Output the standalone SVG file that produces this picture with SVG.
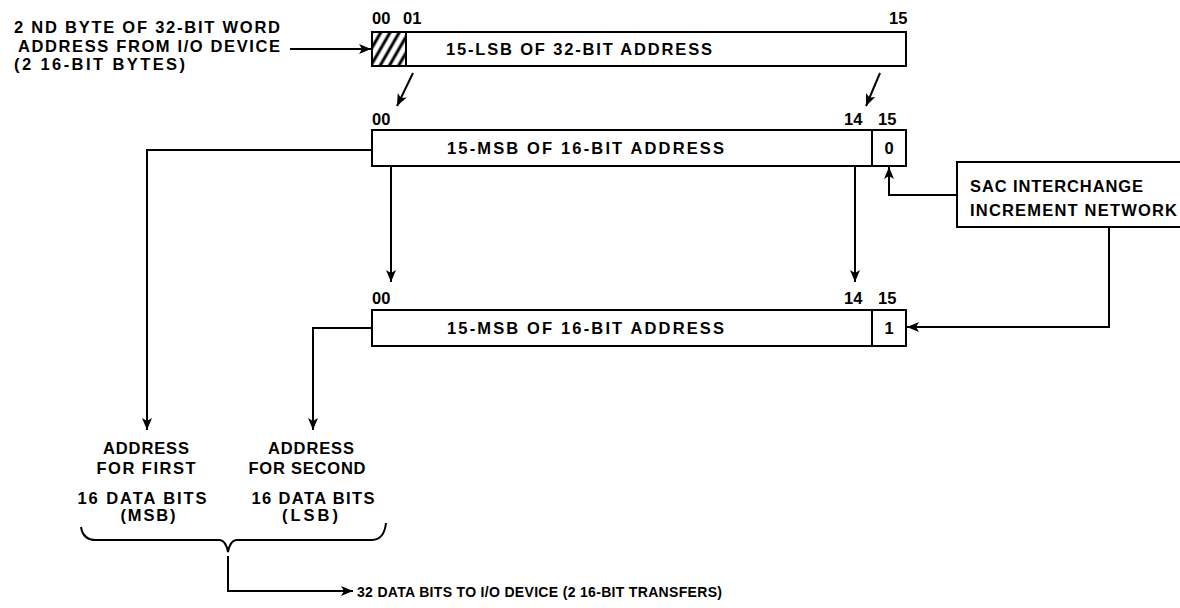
<svg xmlns="http://www.w3.org/2000/svg" width="1180" height="608" viewBox="0 0 1180 608">
<style>
text{font-family:"Liberation Sans",Arial,sans-serif;font-weight:bold;font-size:16.5px;fill:#000}
.bx{fill:#fff;stroke:#000;stroke-width:2}
.ln{fill:none;stroke:#000;stroke-width:2}
.mid{text-anchor:middle}
</style>
<defs>
<marker id="ah" viewBox="0 0 12 10" refX="12" refY="5" markerWidth="12" markerHeight="10" markerUnits="userSpaceOnUse" orient="auto">
<path d="M0,0 L12,5 L0,10 L3,5 z" fill="#000"/>
</marker>
<pattern id="hatch" patternUnits="userSpaceOnUse" width="8" height="8" patternTransform="rotate(30)">
<rect width="8" height="8" fill="#fff"/>
<line x1="2" y1="0" x2="2" y2="8" stroke="#000" stroke-width="3"/>
</pattern>
</defs>

<g id="source-label">
<text x="14" y="33" textLength="266" lengthAdjust="spacing">2 ND BYTE OF 32-BIT WORD</text>
<text x="18" y="52" textLength="262" lengthAdjust="spacing">ADDRESS FROM I/O DEVICE</text>
<text x="14" y="70" textLength="171" lengthAdjust="spacing">(2 16-BIT BYTES)</text>
</g>

<g id="reg-top">
<rect class="bx" x="372" y="32" width="534" height="34"/>
<rect x="373" y="33" width="33" height="32" fill="url(#hatch)"/>
<line class="ln" x1="406" y1="32" x2="406" y2="66"/>
<rect x="372" y="32" width="534" height="34" fill="none" stroke="#000" stroke-width="2"/>
<text x="372" y="24">00</text>
<text x="403" y="24">01</text>
<text x="889" y="24">15</text>
<text x="446" y="55" textLength="266" lengthAdjust="spacing">15-LSB OF 32-BIT ADDRESS</text>
</g>

<g id="reg-mid">
<rect class="bx" x="372" y="130" width="534" height="36"/>
<line class="ln" x1="872" y1="130" x2="872" y2="166"/>
<text x="372" y="125">00</text>
<text x="844" y="125">14</text>
<text x="878" y="125">15</text>
<text x="447" y="154" textLength="277" lengthAdjust="spacing">15-MSB OF 16-BIT ADDRESS</text>
<text x="889" y="154" class="mid">0</text>
</g>

<g id="reg-bot">
<rect class="bx" x="372" y="310" width="534" height="36"/>
<line class="ln" x1="872" y1="310" x2="872" y2="346"/>
<text x="372" y="304">00</text>
<text x="844" y="304">14</text>
<text x="878" y="304">15</text>
<text x="447" y="334" textLength="277" lengthAdjust="spacing">15-MSB OF 16-BIT ADDRESS</text>
<text x="889" y="334" class="mid">1</text>
</g>

<g id="sac">
<rect class="bx" x="957" y="162" width="240" height="65"/>
<text x="970" y="192" textLength="173" lengthAdjust="spacing">SAC INTERCHANGE</text>
<text x="970" y="216" textLength="207" lengthAdjust="spacing">INCREMENT NETWORK</text>
</g>

<g id="out-first">
<text x="146" y="454" class="mid" textLength="86" lengthAdjust="spacing">ADDRESS</text>
<text x="146" y="474" class="mid" textLength="99" lengthAdjust="spacing">FOR FIRST</text>
<text x="142" y="504" class="mid" textLength="129" lengthAdjust="spacing">16 DATA BITS</text>
<text x="148" y="521" class="mid" textLength="55" lengthAdjust="spacing">(MSB)</text>
</g>

<g id="out-second">
<text x="311" y="454" class="mid" textLength="86" lengthAdjust="spacing">ADDRESS</text>
<text x="307" y="474" class="mid" textLength="117" lengthAdjust="spacing">FOR SECOND</text>
<text x="313" y="504" class="mid" textLength="123" lengthAdjust="spacing">16 DATA BITS</text>
<text x="310" y="521" class="mid" textLength="56" lengthAdjust="spacing">(LSB)</text>
</g>

<g id="out-label">
<text x="357" y="597" style="font-size:14px" textLength="365" lengthAdjust="spacing">32 DATA BITS TO I/O DEVICE (2 16-BIT TRANSFERS)</text>
</g>

<g id="connectors">
<line class="ln" x1="290" y1="49" x2="371" y2="49" marker-end="url(#ah)"/>
<line class="ln" x1="413" y1="73" x2="397" y2="106" marker-end="url(#ah)"/>
<line class="ln" x1="880" y1="73" x2="866" y2="106" marker-end="url(#ah)"/>
<line class="ln" x1="391" y1="166" x2="391" y2="282" marker-end="url(#ah)"/>
<line class="ln" x1="855" y1="166" x2="855" y2="282" marker-end="url(#ah)"/>
<path class="ln" d="M957,195 H889 V167" marker-end="url(#ah)"/>
<path class="ln" d="M1109,227 V327 H907" marker-end="url(#ah)"/>
<path class="ln" d="M372,150 H147 V430" marker-end="url(#ah)"/>
<path class="ln" d="M372,328 H313 V430" marker-end="url(#ah)"/>
<path class="ln" d="M81,527 Q83,540 96,540 H220 Q226,541 228,552 Q230,541 236,540 H372 Q384,540 386,523"/>
<path class="ln" d="M228,556 V591 H353" marker-end="url(#ah)"/>
</g>
</svg>
